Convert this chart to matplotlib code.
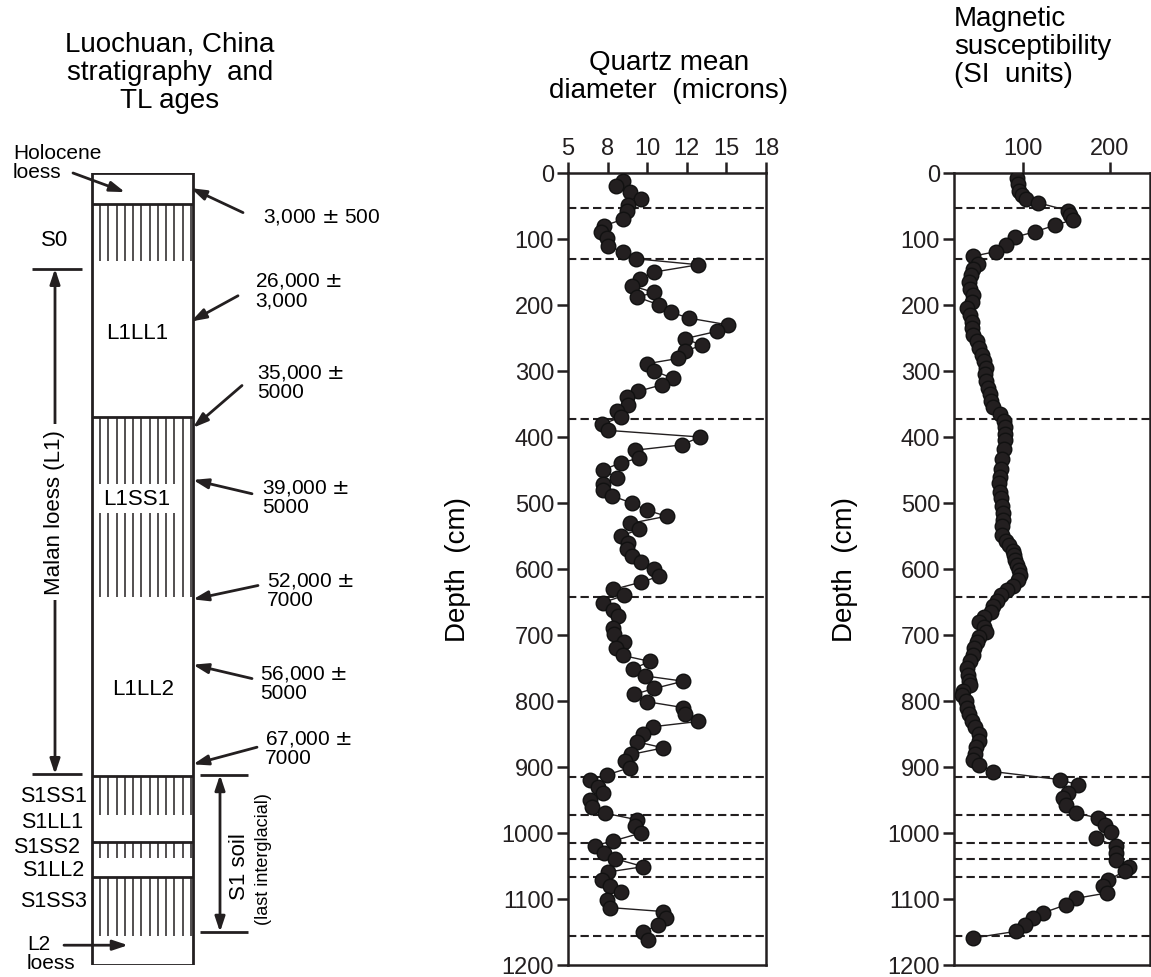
import numpy as np
import matplotlib
matplotlib.use("Agg")
import matplotlib.pyplot as plt
from matplotlib.patches import Rectangle

plt.rcParams["font.family"] = ["Liberation Sans", "DejaVu Sans"]

# ---- data ----
# quartz mean diameter (axis units 5..18) vs depth (cm)
qz_depth = [12, 19, 29, 39, 49, 58, 70, 80, 89, 99, 111, 119, 130, 139, 150, 160, 171, 181,
            188, 200, 211, 220, 230, 240, 251, 261, 270, 281, 289, 300, 311, 321, 331, 340,
            351, 360, 370, 381, 390, 400, 412, 420, 432, 439, 450, 462, 471, 481, 489, 500,
            511, 520, 531, 540, 550, 561, 570, 580, 590, 600, 611, 620, 631, 640, 651, 662,
            671, 689, 699, 710, 719, 731, 740, 751, 762, 770, 781, 790, 801, 810, 820, 831,
            839, 850, 862, 871, 881, 891, 901, 912, 920, 930, 940, 950, 960, 970, 980, 990,
            1000, 1012, 1019, 1031, 1039, 1051, 1059, 1071, 1081, 1090, 1101, 1113, 1119,
            1129, 1139, 1150, 1162]
qz_value = [8.63, 8.15, 9.07, 9.79, 8.96, 8.85, 8.63, 7.36, 7.14, 7.54, 7.65, 8.59, 9.46,
            13.56, 10.67, 9.73, 9.18, 10.67, 9.55, 11.0, 11.76, 12.97, 15.49, 14.76, 12.68,
            13.78, 12.68, 12.24, 10.17, 10.67, 11.87, 11.15, 9.57, 8.85, 8.96, 8.24, 8.46,
            7.21, 7.65, 13.67, 12.46, 9.4, 9.68, 8.48, 7.28, 8.24, 7.28, 7.28, 7.87, 9.18,
            10.17, 11.48, 9.07, 9.68, 8.48, 8.96, 8.85, 9.18, 9.79, 10.67, 11.0, 9.79, 7.97,
            8.7, 7.28, 7.97, 8.3, 7.97, 8.02, 8.7, 8.15, 8.59, 10.38, 9.29, 10.06, 12.57,
            10.67, 9.33, 10.17, 12.57, 12.68, 13.56, 10.56, 9.9, 9.55, 11.26, 9.14, 8.74,
            9.07, 7.54, 6.44, 6.95, 7.28, 6.44, 6.56, 7.43, 9.55, 9.4, 9.79, 7.97, 6.77,
            7.36, 8.09, 9.95, 7.65, 7.21, 7.76, 8.48, 7.54, 7.76, 11.26, 11.43, 10.93, 9.95,
            10.27]
qz_ticks = ["5", "8", "10", "12", "15", "18"]

# magnetic susceptibility (SI units) vs depth (cm)
ms_depth = [8, 17, 27, 33, 40, 45, 57, 64, 71, 79, 89, 97, 109, 119, 126, 138, 145, 155,
            165, 175, 185, 195, 205, 215, 225, 235, 245, 255, 265, 275, 285, 295, 305, 315,
            325, 335, 345, 355, 365, 375, 385, 395, 405, 418, 433, 448, 460, 470, 483, 493,
            505, 515, 525, 535, 549, 557, 564, 572, 579, 587, 594, 602, 609, 617, 625, 632,
            640, 648, 656, 665, 672, 680, 688, 695, 703, 710, 720, 730, 740, 750, 760, 770,
            776, 785, 791, 800, 810, 820, 830, 840, 850, 860, 870, 880, 890, 897, 907, 919,
            927, 940, 947, 957, 970, 977, 988, 998, 1008, 1020, 1030, 1041, 1051, 1058, 1071,
            1081, 1091, 1099, 1109, 1121, 1129, 1139, 1149, 1159]
ms_value = [93.5, 94.6, 95.8, 98.5, 103, 117, 152, 154, 157, 137, 114, 91, 81, 69, 43, 48,
            43, 40, 38, 39, 42, 41, 36, 39, 41, 41, 43, 47, 50, 53, 55, 58, 56, 58, 60, 62,
            63, 66, 74, 78, 79, 79, 79, 78, 76, 75, 74, 73, 74, 75, 76, 77, 77, 76, 76, 80,
            84, 88, 90, 91, 93, 95, 96, 94, 89, 82, 75, 70, 66, 63, 55, 50, 55, 58, 50, 47,
            44, 42, 39, 36, 37, 38, 39, 31, 30, 34, 36, 38, 41, 45, 50, 49, 46, 45, 43, 50,
            66, 142, 163, 152, 146, 150, 161, 186, 194, 201, 184, 207, 207, 207, 222, 217,
            198, 192, 196, 161, 149, 123, 111, 102, 92, 43]

# depths of the dashed horizon lines (cm)
horizons = [53, 130, 373, 643, 915, 973, 1015, 1040, 1067, 1156]

# stratigraphic units: top depth, label, soil (hatched) or loess
unit_tops = [0, 47, 133, 370, 642, 913, 972, 1013, 1038, 1067, 1156, 1200]
unit_soil = [False, True, False, True, False, True, False, True, False, True, False]
inner_labels = [("L1LL1", 137, 242), ("L1SS1", 137, 493), ("L1LL2", 143, 781)]
side_labels = [("S1SS1", 943), ("S1LL1", 982), ("S1SS2", 1020), ("S1LL2", 1055),
               ("S1SS3", 1103)]
side_label_x = [87, 83, 80, 84, 87]

# TL ages: text, text position (x, depth), arrow tail, arrow head
tl_ages = [("3,000 $\\pm$ 500", 263, 65, (243, 60), (191, 23)),
           ("26,000 $\\pm$\n3,000", 255, 177, (238, 186), (191, 225)),
           ("35,000 $\\pm$\n5000", 257, 316, (242, 322), (193, 386)),
           ("39,000 $\\pm$\n5000", 262, 490, (252, 486), (193, 465)),
           ("52,000 $\\pm$\n7000", 267, 631, (258, 625), (193, 646)),
           ("56,000 $\\pm$\n5000", 260, 772, (252, 766), (193, 745)),
           ("67,000 $\\pm$\n7000", 265, 870, (257, 870), (193, 896))]

INK = "#231f20"
fig = plt.figure(figsize=(11.51, 9.78), dpi=100)
bot, hgt = 1 - 966 / 978, (966 - 174) / 978

# ---- left panel: stratigraphic column ----
ax0 = fig.add_axes([0, bot, 380 / 1151, hgt])
ax0.set_xlim(0, 380)
ax0.set_ylim(1200, 0)
ax0.axis("off")

col_l, col_r = 92, 193
ax0.add_patch(Rectangle((col_l, 0), col_r - col_l, 1200, fill=False, ec=INK, lw=2))
hatch_x = np.linspace(100, 191, 12)
for i, soil in enumerate(unit_soil):
    top, bottom = unit_tops[i], unit_tops[i + 1]
    if soil:
        ax0.vlines(hatch_x, top, bottom, color=INK, lw=1.1)
        ax0.hlines(top, col_l, col_r, color=INK, lw=2)

for txt, x, d in inner_labels:
    ax0.text(x, d, txt, ha="center", va="center", fontsize=16,
             bbox=dict(fc="white", ec="none", pad=3))
for (txt, d), x in zip(side_labels, side_label_x):
    ax0.text(x, d, txt, ha="right", va="center", fontsize=15.5)
ax0.text(55, 100, "S0", ha="center", va="center", fontsize=16)

arrow = dict(arrowstyle="-|>,head_length=0.9,head_width=0.3", color=INK, lw=2,
             shrinkA=0, shrinkB=0)
for txt, x, d, tail, head in tl_ages:
    ax0.text(x, d, txt, ha="left", va="center", fontsize=15, linespacing=1.0)
    ax0.annotate("", xy=head, xytext=tail, arrowprops=arrow, annotation_clip=False)

ax0.text(13, -16, "Holocene\nloess", ha="left", va="center", fontsize=15,
         linespacing=1.0, clip_on=False)
ax0.annotate("", xy=(125, 29), xytext=(73, 0), arrowprops=arrow, annotation_clip=False)
ax0.text(27, 1182, "L2\nloess", ha="left", va="center", fontsize=15, linespacing=1.0,
         clip_on=False)
ax0.annotate("", xy=(128, 1170), xytext=(64, 1170), arrowprops=arrow,
             annotation_clip=False)

darrow = dict(arrowstyle="<|-|>,head_length=0.9,head_width=0.3", color=INK, lw=2,
              shrinkA=0, shrinkB=0)
# Malan loess bracket
ax0.hlines([145, 911], 32, 82, color=INK, lw=2)
ax0.annotate("", xy=(55, 145), xytext=(55, 911), arrowprops=darrow)
ax0.text(55, 513, "Malan loess (L1)", rotation=90, ha="center", va="center",
         fontsize=16, bbox=dict(fc="white", ec="none", pad=4))
# S1 soil bracket
ax0.hlines([912, 1150], 200, 248, color=INK, lw=2)
ax0.annotate("", xy=(220, 912), xytext=(220, 1150), arrowprops=darrow)
ax0.text(240, 1050, "S1 soil", rotation=90, ha="center", va="center", fontsize=16)
ax0.text(264, 1038, "(last interglacial)", rotation=90, ha="center", va="center",
         fontsize=13)

fig.text(170 / 1151, 1 - 73 / 978, "Luochuan, China\nstratigraphy  and\nTL ages",
         ha="center", va="center", fontsize=20, linespacing=1.1)


# ---- data panels ----
def style_depth_axis(ax):
    ax.set_ylim(1200, 0)
    ax.set_yticks(np.arange(0, 1201, 100))
    ax.xaxis.tick_top()
    for s in ax.spines.values():
        s.set_linewidth(1.8)
        s.set_color(INK)
    ax.tick_params(axis="both", direction="out", length=8, width=1.8, labelsize=17,
                   pad=2, colors=INK)
    ax.set_ylabel("Depth  (cm)", fontsize=20)
    ax.yaxis.set_label_coords(-0.49, 0.5)
    for h in horizons:
        ax.axhline(h, color=INK, lw=1.5, ls=(0, (4, 2)), zorder=1)


ax1 = fig.add_axes([568 / 1151, bot, 198 / 1151, hgt])
ax1.plot(qz_value, qz_depth, "-", color=INK, lw=1, marker="o", ms=10.5, mfc=INK,
         mec="#111111", zorder=3)
ax1.set_xlim(5, 18)
ax1.set_xticks(np.linspace(5, 18, len(qz_ticks)))
ax1.set_xticklabels(qz_ticks)
style_depth_axis(ax1)
fig.text(669 / 1151, 1 - 77 / 978, "Quartz mean\ndiameter  (microns)", ha="center",
         va="center", fontsize=20, linespacing=1.1)

ax2 = fig.add_axes([954 / 1151, bot, 196 / 1151, hgt])
ax2.plot(ms_value, ms_depth, "-", color=INK, lw=1, marker="o", ms=10.5, mfc=INK,
         mec="#111111", zorder=3)
ax2.set_xlim(20.7, 246)
ax2.set_xticks([100, 200])
style_depth_axis(ax2)
fig.text(954 / 1151, 1 - 47 / 978, "Magnetic\nsusceptibility\n(SI  units)", ha="left",
         va="center", fontsize=20, linespacing=1.1)

fig.savefig("out.png", dpi=100)
